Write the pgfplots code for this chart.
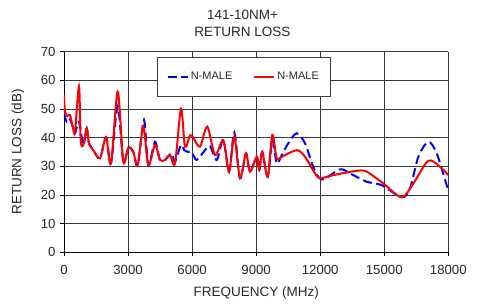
\documentclass[border=0pt]{standalone}
\usepackage{pgfplots}
\pgfplotsset{compat=1.18}
\usepackage{fontspec}
\setmainfont{Liberation Sans}
\definecolor{txt}{RGB}{40,40,40}
\begin{document}
\begin{tikzpicture}[x=1pt,y=1pt]
\path[use as bounding box] (-64,-50.7) rectangle (421,252.3);
\begin{axis}[
 at={(0,0)}, anchor=south west,
 scale only axis, width=384.3pt, height=200.8pt,
 xmin=0, xmax=18000, ymin=0, ymax=70,
 xtick={0,3000,...,18000}, ytick={0,10,...,70},
 grid=major, major grid style={black!78, line width=0.75pt},
 axis x line*=bottom, axis y line*=left,
 axis line style={-, black, line width=0.9pt},
 tick align=outside, major tick length=4pt, tick style={black, line width=0.7pt},
 /pgf/number format/assume math mode=true,
 /pgf/number format/set thousands separator={},
 scaled x ticks=false,
 tick label style={font=\fontsize{13.2}{15}\selectfont, text=txt},
 xticklabel style={yshift=-5pt},
 yticklabel style={xshift=-1pt},
 xlabel={FREQUENCY (MHz)}, ylabel={RETURN LOSS (dB)},
 label style={font=\fontsize{13.5}{15}\selectfont, text=txt},
 xlabel style={at={(axis description cs:0.5,-0.2027)}, anchor=center},
 ylabel style={at={(axis description cs:-0.1197,0.5)}, anchor=center},
 legend columns=2,
 legend image code/.code={\draw[#1] (0pt,0pt) -- (20pt,0pt);},
 legend style={at={(rel axis cs:0.468,0.8745)}, anchor=center, draw=black!75, line width=0.8pt, fill=white,
   font=\fontsize{11}{13}\selectfont, text=txt, inner xsep=9pt, inner ysep=13pt,
   /tikz/every even column/.append style={column sep=19pt}},
]
\addplot[blue, line width=2pt, dash pattern=on 9pt off 4.5pt, smooth, tension=0.5] coordinates {
(0,48.4) (126,45.5) (248,46.7) (361,44.9) (515,41.5) (700,45.5) (904,37.4) (1063,43.2) (1171,38)
(1372,35.6) (1686,32.8) (1967,40.1) (2201,31) (2515,51) (2778,31.6) (3012,36.5) (3246,35) (3452,30.4)
(3747,46.1) (3949,30.4) (4262,38.5) (4497,32.2) (4731,32.2) (5045,34.5) (5199,31.6) (5480,37.4)
(5635,35.6) (5822,35) (5981,35) (6216,32.2) (6605,35.6) (6839,37) (7153,32.2) (7462,39.1) (7729,28.1)
(7977,41.7) (8244,25.8) (8525,34.5) (8712,28.1) (9026,33.3) (9148,28.7) (9288,35) (9541,26.3)
(9757,39.1) (9963,31) (10197,33.9) (10506,38) (10900,41.5) (11288,38) (11677,29.8) (12071,25.4)
(12928,28.9) (13396,27.5) (14179,24.6) (14881,23.4) (15818,19.2) (16207,22.3) (16596,33.3)
(17064,38.5) (17457,34.5) (17926,23.4) (18000,22.3)
};
\addlegendentry{N-MALE}
\addplot[red, line width=2pt, smooth, tension=0.5] coordinates {
(0,54.8) (47,49) (155,47.5) (281,47.8) (407,43.8) (515,42) (703,57.9) (782,39.1) (904,37.4)
(1063,43.2) (1171,38) (1372,35.6) (1686,32.8) (1967,40.1) (2201,31) (2515,56) (2778,31.6)
(3012,36.5) (3246,35) (3452,30.4) (3714,43.8) (3949,30.4) (4262,37.4) (4497,32.2) (4731,32.2)
(4965,33.9) (5199,31) (5480,50) (5668,36.8) (5902,40.8) (6056,40) (6370,36.8) (6712,43.8)
(7073,33.9) (7462,39.1) (7729,28.1) (7977,40.3) (8244,25.8) (8525,34.5) (8712,28.1) (9026,33.3)
(9148,28.7) (9288,35) (9541,26.3) (9757,40.9) (9963,32.8) (10197,33.3) (10900,35.6) (11288,33.3)
(11757,27.5) (11991,25.8) (12614,26.9) (13710,28.4) (14179,28.1) (14956,24) (15818,19.2)
(16362,24) (17064,31.9) (17612,29.8) (18000,26.9)
};
\addlegendentry{N-MALE}
\end{axis}
\node[font=\fontsize{13.5}{15}\selectfont, text=txt] at (178.5,237.3) {141-10NM+};
\node[font=\fontsize{13.5}{15}\selectfont, text=txt] at (178.5,220.6) {RETURN LOSS};
\end{tikzpicture}
\end{document}
